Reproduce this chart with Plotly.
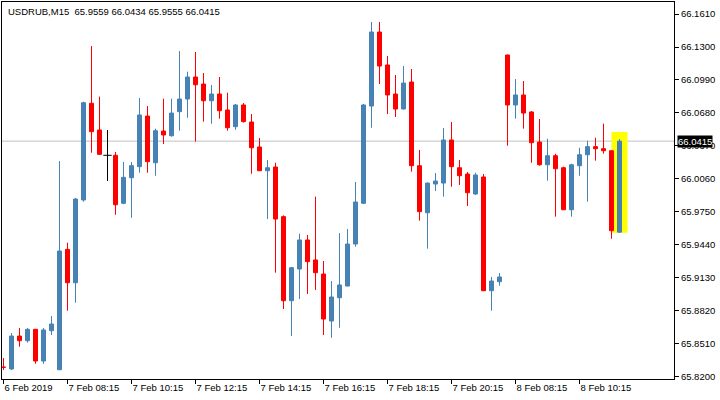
import plotly.graph_objects as go

symbol = "USDRUB,M15"

# M15 bars, oldest first
opens = [65.8292, 65.8273, 65.8583, 65.8539, 65.8646, 65.8348, 65.8633, 65.8266, 65.9398, 65.9084,
         65.9862, 66.0771, 66.0520, 66.0282, 66.0282, 65.9831, 66.0071, 66.0175, 66.0651, 66.0212,
         66.0510, 66.0466, 66.0692, 66.0811, 66.1018, 66.0952, 66.0795, 66.0858, 66.0708, 66.0551,
         66.0755, 66.0595, 66.0360, 66.0137, 66.0172, 65.9705, 65.8915, 65.9213, 65.9486, 65.9298,
         65.9166, 65.8724, 65.8943, 65.9053, 65.9448, 65.9831, 66.0745, 66.1441, 66.1131, 66.0858,
         66.0717, 66.0971, 66.0184, 65.9742, 66.0012, 66.0021, 66.0426, 66.0165, 66.0106, 65.9918,
         66.0078, 65.9009, 65.9094, 66.1225, 66.0755, 66.0849, 66.0689, 66.0407, 66.0193, 66.0278,
         66.0165, 65.9770, 66.0184, 66.0287, 66.0363, 66.0344, 66.0325, 65.9559]
highs = [65.8376, 65.8611, 65.8658, 65.8658, 65.8650, 65.8658, 65.8771, 66.0228, 65.9460, 65.9880,
         66.0786, 66.1309, 66.0833, 66.0520, 66.0313, 66.0219, 66.0219, 66.0820, 66.0745, 66.0532,
         66.0814, 66.0814, 66.1262, 66.1068, 66.1253, 66.1055, 66.0943, 66.1018, 66.0870, 66.0764,
         66.0773, 66.0670, 66.0444, 66.0238, 66.0212, 65.9718, 65.9232, 65.9545, 65.9533, 65.9893,
         65.9288, 65.9100, 65.9551, 65.9589, 66.0031, 66.0764, 66.1535, 66.1535, 66.1215, 66.1037,
         66.1121, 66.1093, 66.0332, 66.0025, 66.0115, 66.0538, 66.0595, 66.0238, 66.0125, 66.0118,
         66.0106, 65.9138, 65.9175, 66.1228, 66.0999, 66.0980, 66.0698, 66.0623, 66.0438, 66.0297,
         66.0175, 66.0203, 66.0353, 66.0419, 66.0447, 66.0579, 66.0325, 66.0434]
lows = [65.8264, 65.8264, 65.8483, 65.8520, 65.8323, 65.8323, 65.8593, 65.8264, 65.8821, 65.8896,
        65.9846, 66.0306, 66.0288, 66.0040, 65.9723, 65.9822, 65.9695, 66.0118, 66.0118, 66.0090,
        66.0388, 66.0457, 66.0513, 66.0635, 66.0410, 66.0598, 66.0579, 66.0626, 66.0513, 66.0522,
        66.0590, 66.0109, 66.0134, 65.9683, 65.9178, 65.8837, 65.8583, 65.8931, 65.8978, 65.9016,
        65.8593, 65.8567, 65.8661, 65.9050, 65.9423, 65.9824, 66.0541, 66.0952, 66.0670, 66.0642,
        66.0714, 66.0128, 65.9667, 65.9404, 65.9946, 65.9893, 65.9987, 66.0003, 65.9805, 65.9909,
        65.9005, 65.8821, 65.9056, 66.0372, 66.0626, 66.0532, 66.0212, 66.0184, 66.0043, 65.9705,
        65.9768, 65.9705, 66.0090, 65.9846, 66.0231, 66.0297, 65.9498, 65.9555]
closes = [65.8288, 65.8583, 65.8539, 65.8646, 65.8348, 65.8640, 65.8696, 65.9382, 65.9084, 65.9871,
          66.0776, 66.0504, 66.0291, 66.0282, 65.9817, 66.0075, 66.0184, 66.0661, 66.0222, 66.0513,
          66.0473, 66.0679, 66.0811, 66.1018, 66.0945, 66.0795, 66.0858, 66.0701, 66.0541, 66.0755,
          66.0598, 66.0353, 66.0137, 66.0165, 65.9683, 65.8915, 65.9225, 65.9486, 65.9282, 65.9178,
          65.8743, 65.8950, 65.9063, 65.9448, 65.9843, 66.0755, 66.1441, 66.1121, 66.0849, 66.0717,
          66.0961, 66.0184, 65.9752, 66.0021, 66.0040, 66.0426, 66.0175, 66.0090, 65.9930, 66.0097,
          65.9009, 65.9100, 65.9138, 66.0755, 66.0849, 66.0679, 66.0400, 66.0193, 66.0278, 66.0156,
          65.9770, 66.0193, 66.0287, 66.0363, 66.0344, 66.0325, 65.9573, 66.0415]

time_labels = ["6 Feb 2019", "7 Feb 08:15", "7 Feb 10:15", "7 Feb 12:15", "7 Feb 14:15",
               "7 Feb 16:15", "7 Feb 18:15", "7 Feb 20:15", "8 Feb 08:15", "8 Feb 10:15"]
bars_per_label = 8

price_ticks = [65.8200, 65.8510, 65.8820, 65.9130, 65.9440, 65.9750,
               66.0060, 66.0370, 66.0680, 66.0990, 66.1300, 66.1610]

highlight_top = 66.0500

bull = "#4682B4"
bear = "#FF0000"
doji = "#000000"
font = dict(family="Liberation Sans, Arial, sans-serif", size=9.5, color="black")

n = len(opens)
idx = list(range(n))
colors = [bull if c > o else bear if c < o else doji for o, c in zip(opens, closes)]

# bodies
body_x, body_base, body_len, body_col = [], [], [], []
for i in idx:
    if colors[i] == doji:
        continue
    body_x.append(i)
    body_base.append(min(opens[i], closes[i]))
    body_len.append(abs(closes[i] - opens[i]))
    body_col.append(colors[i])

traces = []
# wicks, one trace per colour
for col in (bull, bear, doji):
    xs, ys = [], []
    for i in idx:
        if colors[i] == col:
            xs += [i, i, None]
            ys += [lows[i], highs[i], None]
    traces.append(go.Scatter(x=xs, y=ys, mode="lines", line=dict(color=col, width=1),
                             hoverinfo="skip"))

traces.append(go.Bar(x=body_x, base=body_base, y=body_len, width=0.5,
                     marker=dict(color=body_col, line=dict(color=body_col, width=1)),
                     hoverinfo="skip"))

doji_x = [i for i in idx if colors[i] == doji]
traces.append(go.Scatter(x=doji_x, y=[opens[i] for i in doji_x], mode="markers",
                         marker=dict(symbol="line-ew", size=6, line=dict(color=doji, width=1)),
                         hoverinfo="skip"))

last = n - 1
fig = go.Figure(data=traces)
fig.update_layout(
    width=720, height=400,
    margin=dict(l=2, r=46, t=2, b=21),
    plot_bgcolor="white", paper_bgcolor="white",
    showlegend=False, font=font,
    xaxis=dict(range=[-0.1875, n + 5.8125], tickvals=idx[::bars_per_label], ticktext=time_labels,
               ticks="outside", ticklen=4, tickcolor="black", showline=True, linecolor="black",
               mirror=True, showgrid=False, zeroline=False, ticklabelposition="outside right",
               tickfont=font),
    yaxis=dict(side="right", range=[65.8179, 66.1723], tickvals=price_ticks, tickformat=".4f",
               ticks="outside", ticklen=4, tickcolor="black", showline=True, linecolor="black",
               mirror=True, showgrid=False, zeroline=False, tickfont=font),
    shapes=[
        dict(type="line", xref="paper", x0=0, x1=1, yref="y", y0=closes[last], y1=closes[last],
             line=dict(color="#C0C0C0", width=1), layer="below"),
        dict(type="rect", xref="x", x0=last - 1, x1=last + 1, yref="y", y0=lows[last],
             y1=highlight_top, fillcolor="#FFFF00", line=dict(width=0), layer="below"),
    ],
    annotations=[
        dict(xref="paper", yref="paper", x=0, y=1, xanchor="left", yanchor="top", xshift=4,
             yshift=-2, showarrow=False, font=font,
             text=f"{symbol} \u00a0{opens[last]:.4f} {highs[last]:.4f} {lows[last]:.4f} {closes[last]:.4f}"),
        dict(xref="paper", yref="y", x=1, y=closes[last], xanchor="left", yanchor="middle",
             xshift=3, showarrow=False, bgcolor="black", borderpad=0,
             font=dict(family=font["family"], size=9.5, color="white"),
             text=f"{closes[last]:.4f}"),
    ],
)

fig.write_html("out.html", config={"displayModeBar": False},
               post_script="document.body.style.margin='0';")
